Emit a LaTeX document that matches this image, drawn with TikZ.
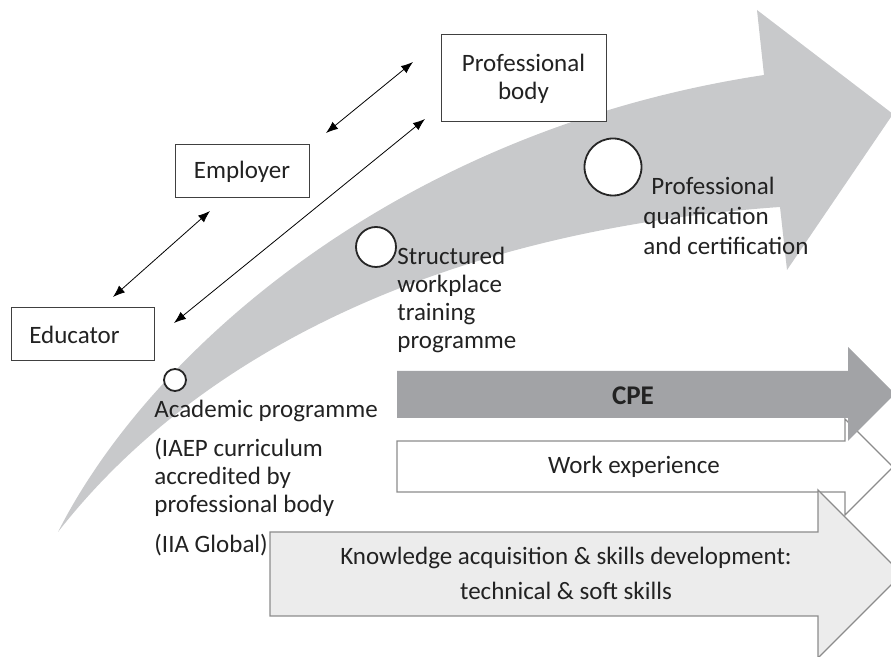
\documentclass[tikz,border=0pt]{standalone}
\usepackage{fontspec}
\setmainfont{Carlito}
\usetikzlibrary{arrows.meta,positioning}

\definecolor{bandgray}{HTML}{C8C9CB}
\definecolor{cpegray}{HTML}{A2A3A6}
\definecolor{kngray}{HTML}{ECECEC}
\definecolor{edgegray}{HTML}{8C8C8C}
\definecolor{ink}{HTML}{222222}

\begin{document}
\begin{tikzpicture}[x=0.5pt, y=-0.5pt, thin, font=\fontsize{12.5}{14}\selectfont,
    >={Latex[length=6pt,width=4.5pt]}]
  \tikzstyle{actor} = [rectangle, draw=black!75, fill=white, line width=0.5pt, inner sep=0pt, align=center, text=ink]
  \tikzstyle{stage} = [circle, draw=black!85, fill=white, line width=0.9pt, inner sep=0pt]
  \tikzstyle{stagetext} = [anchor=base west, align=left, inner sep=0pt, text=ink]
  \tikzstyle{flowtext} = [anchor=center, align=center, inner sep=0pt, text=ink]
  \tikzstyle{flow} = [draw=edgegray, line width=0.7pt, line join=miter]

  \useasboundingbox (0,0) rectangle (891,657);
  \clip (0,0) rectangle (891,657);

  % curved career path
  \fill[bandgray] (58,532) .. controls (150,350) and (400,130) .. (764,75)
    -- (757,10) -- (893,114) -- (787,270) -- (780,207)
    .. controls (450,230) and (200,350) .. (58,532) -- cycle;

  % block arrows
  \filldraw[flow, fill=white] (397,441) -- (845,441) -- (845,419) -- (893,467)
    -- (845,515) -- (845,492) -- (397,492) -- cycle;
  \fill[cpegray] (397,371) -- (848,371) -- (848,347) -- (895,394)
    -- (848,441) -- (848,418) -- (397,418) -- cycle;
  \filldraw[flow, fill=kngray] (270,532) -- (818,532) -- (818,490) -- (902,574)
    -- (818,658) -- (818,616) -- (270,616) -- cycle;

  \node[flowtext, font=\fontsize{13.5}{16}\selectfont\bfseries] (cpe) at (633,396) {CPE};
  \node[flowtext] (work) at (634,467) {Work experience};
  % base of a multi-line node sits on its last line
  \node[flowtext, anchor=base, font=\fontsize{12.5}{17.5}\selectfont] (skills) at (566,600)
    {Knowledge acquisition \& skills development:\\technical \& soft skills};

  % stakeholders
  \node[actor, minimum width=71.5pt, minimum height=26.5pt] (educator) at (82.5,334.5) {Educator\hspace{8pt}};
  \node[actor, minimum width=67pt, minimum height=26.5pt] (employer) at (242,171.5) {Employer};
  \node[actor, minimum width=82.5pt, minimum height=43.5pt] (profbody) at (523.5,78.5) {Professional\\body};

  \coordinate (edu_a) at (113,297);
  \coordinate (emp_a) at (210,211);
  \coordinate (emp_b) at (326,133);
  \coordinate (pb_b) at (413,62);
  \coordinate (edu_c) at (174,323);
  \coordinate (pb_c) at (425,119);

  \draw[<->] (edu_a) -- (emp_a);
  \draw[<->] (emp_b) -- (pb_b);
  \draw[<->] (edu_c) -- (pb_c);

  % milestones
  \node[stage, minimum size=11pt] (academic) at (175,380) {};
  \node[stage, minimum size=20pt] (workplace) at (376,247) {};
  \node[stage, minimum size=28.5pt] (qualif) at (613,167) {};

  \node[stagetext] (academic_t) at (154,418) {Academic programme};
  \node[stagetext] (iaep_t) at (154,513) {(IAEP curriculum\\accredited by\\professional body};
  \node[stagetext] (iia_t) at (154,553) {(IIA Global)};
  \node[stagetext] (workplace_t) at (397,349) {Structured\\workplace\\training\\programme};
  \node[stagetext, font=\fontsize{12.5}{15}\selectfont] (qualif_t) at (643,255) {\hspace{4pt}Professional\\qualification\\and certification};
\end{tikzpicture}
\end{document}
